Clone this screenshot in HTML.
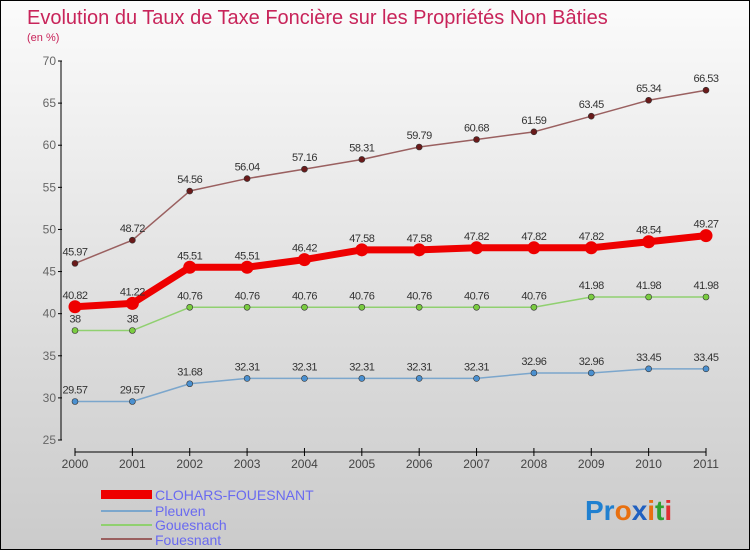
<!DOCTYPE html>
<html><head><meta charset="utf-8"><style>
body{margin:0}
#c{position:relative;width:748px;height:548px;border:1px solid #000;background:linear-gradient(#fbfbfb,#d8d8d8 70%,#cbcbcb);font-family:"Liberation Sans",sans-serif;overflow:hidden}
</style></head><body>
<div id="c">
<svg id="s" width="748" height="548" xmlns="http://www.w3.org/2000/svg" font-family="Liberation Sans, sans-serif">
<text x="26" y="23" font-size="20" fill="#c8245a">Evolution du Taux de Taxe Foncière sur les Propriétés Non Bâties</text>
<text x="26" y="40" font-size="11" fill="#c8245a">(en %)</text>
<g id="axes"></g><g id="series"></g>
<g>
<rect x="100" y="489" width="51" height="9" fill="#e00"/>
<text x="154" y="499" font-size="14" fill="#6a6af0">CLOHARS-FOUESNANT</text>
<line x1="100" y1="510" x2="151" y2="510" stroke="#7ba6cc" stroke-width="2"/>
<text x="154" y="515" font-size="14" fill="#6a6af0">Pleuven</text>
<line x1="100" y1="524" x2="151" y2="524" stroke="#90d070" stroke-width="2"/>
<text x="154" y="529" font-size="14" fill="#6a6af0">Gouesnach</text>
<line x1="100" y1="538" x2="151" y2="538" stroke="#9a6060" stroke-width="2"/>
<text x="154" y="544" font-size="14" fill="#6a6af0">Fouesnant</text>
</g>
<g font-size="28" font-weight="bold">
<text x="584" y="519"><tspan fill="#2080d0">Pr</tspan><tspan fill="#e87010">o</tspan><tspan fill="#2060c0">x</tspan><tspan fill="#e87010">i</tspan><tspan fill="#30a030">t</tspan><tspan fill="#e03030">i</tspan></text>
</g>
</svg>
</div>
<script>
const years=["2000","2001","2002","2003","2004","2005","2006","2007","2008","2009","2010","2011"];
const yTicks=[25,30,35,40,45,50,55,60,65,70];
const clohars=[40.82,41.22,45.51,45.51,46.42,47.58,47.58,47.82,47.82,47.82,48.54,49.27];
const pleuven=[29.57,29.57,31.68,32.31,32.31,32.31,32.31,32.31,32.96,32.96,33.45,33.45];
const gouesnach=[38,38,40.76,40.76,40.76,40.76,40.76,40.76,40.76,41.98,41.98,41.98];
const fouesnant=[45.97,48.72,54.56,56.04,57.16,58.31,59.79,60.68,61.59,63.45,65.34,66.53];
const NS="http://www.w3.org/2000/svg";
const X=i=>74+i*(705-74)/(years.length-1);
const Y=v=>439-(v-25)*(439-60)/45;
function mk(t,a,p){const e=document.createElementNS(NS,t);for(const k in a)e.setAttribute(k,a[k]);p.appendChild(e);return e;}
const ax=document.getElementById('axes');
let l=mk('line',{x1:60,y1:Y(70),x2:60,y2:Y(25),stroke:'#000'},ax);


yTicks.forEach(v=>{mk('line',{x1:57,y1:Y(v),x2:61,y2:Y(v),stroke:'#000'},ax);
const t=mk('text',{x:55,y:Y(v)+4,'font-size':12,fill:'#666','text-anchor':'end'},ax);t.textContent=v;

});
l=mk('line',{x1:X(0),y1:451,x2:X(11),y2:451,stroke:'#000'},ax);


years.forEach((y,i)=>{mk('line',{x1:X(i),y1:447,x2:X(i),y2:455,stroke:'#000'},ax);
const t=mk('text',{x:X(i),y:467,'font-size':12,fill:'#444','text-anchor':'middle'},ax);t.textContent=y;

});
const sg=document.getElementById('series');
function series(d,name,col,w,r,fill){
const g=mk('g',{},sg);


mk('polyline',{points:d.map((v,i)=>X(i)+','+Y(v)).join(' '),fill:'none',stroke:col,'stroke-width':w,'stroke-linejoin':'round'},g);
d.forEach((v,i)=>{const c=mk('circle',{cx:X(i),cy:Y(v),r:r,fill:fill,stroke:col==='#e00'?'#e00':'#333','stroke-width':col==='#e00'?0:0.6},g);


const t=mk('text',{x:X(i),y:Y(v)-8,'font-size':11,fill:'#333','text-anchor':'middle','letter-spacing':'-0.5'},g);t.textContent=v;

});}
series(fouesnant,'fouesnant','#9a6060',1.5,3,'#6a1a1a');
series(pleuven,'pleuven','#7ba6cc',1.5,3,'#4a90d0');
series(gouesnach,'gouesnach','#90d070',1.5,3,'#7acc40');
series(clohars,'clohars','#e00',7,6.5,'#e00');
</script>
</body></html>
